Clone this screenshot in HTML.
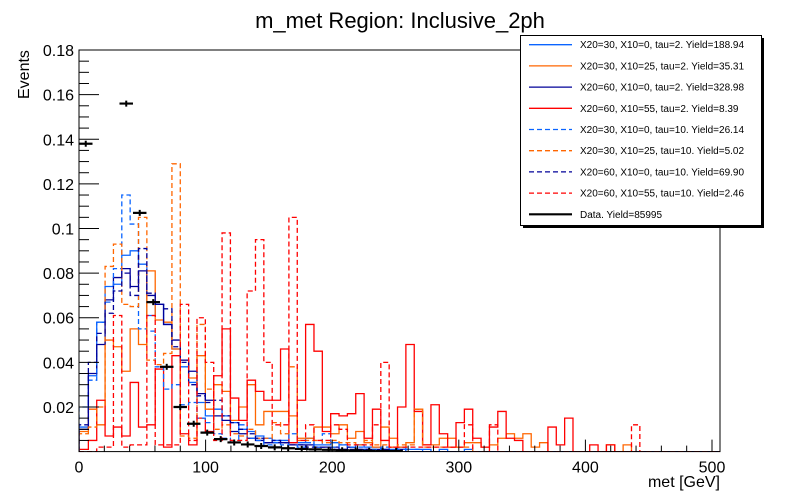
<!DOCTYPE html>
<html><head><meta charset="utf-8"><style>
html,body{margin:0;padding:0;background:#fff;width:800px;height:500px;overflow:hidden}
svg{display:block;font-family:"Liberation Sans",Arial,sans-serif}
</style></head><body>
<svg id="chart" width="800" height="500" viewBox="0 0 800 500">
<rect x="0" y="0" width="800" height="500" fill="#fff"/>
<text x="400" y="28" font-size="22" text-anchor="middle">m_met Region: Inclusive_2ph</text>
<text transform="translate(29,99) rotate(-90)" font-size="16" text-anchor="start">Events</text>
<text x="720" y="487" font-size="16" text-anchor="end">met [GeV]</text>
<g id="plot"></g>
<g id="axes"></g>
<g id="legend"></g>
</svg>
<script>
// ---- data (bin index k, bin width 6.6 GeV) ----
const sigBlueSolid = [0.011,0.034,0.058,0.074,0.075,0.088,0.09,0.084,0.061,0.066,0.057,0.046,0.038,0.031,0.022,0.016,0.019,0.016,0.013,0.010,0.009,0.007,0.006,0.005,0.005,0.004,0.004,0.006,0.003,0.003,0.004,0.003,0.002,0.003,0.002,0.002,0.001,0.001,0.002,0.001,0.001,0.001,0,0.001,0,0,0.001,0,0,0,0,0,0,0,0,0,0,0,0,0,0,0,0,0,0,0,0,0,0,0,0,0,0,0,0,0,0];
const sigOrangeSolid = [0.009,0.019,0.012,0.05,0.047,0.036,0.055,0.048,0.081,0.059,0.058,0.046,0.041,0.033,0.043,0.019,0.03,0.027,0.014,0.020,0.030,0.012,0.018,0.018,0.018,0.016,0.006,0.006,0.011,0.011,0.008,0.012,0.006,0.009,0.004,0.002,0.011,0.006,0.002,0.004,0.019,0.003,0.003,0.006,0.006,0.002,0.004,0.004,0.002,0.003,0.006,0.008,0.006,0.008,0.002,0.004,0,0,0,0,0,0,0,0.003,0,0.003,0,0,0,0,0,0,0,0,0,0,0];
const sigNavySolid = [0.010,0.035,0.048,0.068,0.078,0.082,0.074,0.081,0.070,0.066,0.057,0.050,0.041,0.036,0.026,0.023,0.016,0.014,0.009,0.008,0.006,0.005,0.004,0.004,0.004,0.003,0.003,0.003,0.002,0.002,0.002,0.001,0.002,0.001,0.001,0.001,0.001,0,0.001,0,0,0,0,0,0,0,0,0,0,0,0,0,0,0,0,0,0,0,0,0,0,0,0,0,0,0,0,0,0,0,0,0,0,0,0,0,0];
const sigRedSolid = [0.001,0.005,0.023,0.007,0.011,0.007,0.031,0.011,0.012,0.037,0.002,0.043,0.008,0.003,0.015,0.009,0.034,0.055,0.024,0.014,0.032,0.027,0.023,0.023,0.046,0.004,0.023,0.057,0.045,0.009,0.017,0.016,0.017,0.026,0.006,0.019,0.005,0.002,0.020,0.048,0.018,0.003,0.021,0.008,0.002,0.013,0.019,0.006,0.002,0.011,0.018,0.006,0.005,0,0,0,0.011,0.003,0.015,0,0,0.003,0,0.003,0,0,0,0,0,0,0,0,0,0,0,0,0];
const sigBlueDash = [0.02,0.032,0.058,0.067,0.082,0.115,0.102,0.055,0.054,0.038,0.028,0.030,0.021,0.022,0.015,0.013,0.008,0.006,0.004,0.012,0.006,0.005,0.003,0.004,0.003,0.008,0.002,0.004,0.002,0.008,0.002,0.003,0.002,0.002,0.001,0.001,0.002,0,0.001,0,0.001,0,0,0,0,0,0,0,0,0,0,0,0,0,0,0,0,0,0,0,0,0,0,0,0,0,0,0,0,0,0,0,0,0,0,0,0];
const sigOrangeDash = [0.008,0.011,0.020,0.083,0.093,0.066,0.065,0.105,0.041,0.039,0.044,0.129,0.007,0.006,0.057,0.028,0.010,0.012,0.008,0.007,0.010,0.006,0.006,0.013,0.008,0.038,0.005,0.005,0.005,0.004,0.005,0.004,0.004,0.003,0.005,0.003,0.003,0.002,0.003,0.003,0.019,0.002,0.002,0.002,0.002,0.002,0.002,0,0,0,0,0,0,0,0,0,0,0,0,0,0,0,0,0,0,0,0,0,0,0,0,0,0,0,0,0,0];
const sigNavyDash = [0.012,0.040,0.053,0.062,0.072,0.080,0.070,0.091,0.071,0.066,0.064,0.047,0.040,0.030,0.025,0.022,0.023,0.016,0.013,0.010,0.008,0.006,0.004,0.005,0.004,0.003,0.003,0.002,0.002,0.002,0.001,0.001,0.001,0.001,0.001,0,0,0,0,0,0,0,0,0,0,0,0,0,0,0,0,0,0,0,0,0,0,0,0,0,0,0,0,0,0,0,0,0,0,0,0,0,0,0,0,0,0];
const sigRedDash = [0,0,0.002,0.002,0.061,0.002,0.003,0.003,0.061,0.003,0.003,0.003,0.066,0.005,0.060,0.040,0.005,0.098,0.005,0.005,0.072,0.095,0.040,0.012,0.012,0.105,0.005,0.012,0.005,0.005,0.012,0.010,0.003,0.003,0.003,0.012,0.040,0.002,0.002,0.002,0.002,0.002,0.002,0.002,0.002,0.002,0.012,0,0,0.012,0,0,0,0,0,0,0,0,0,0,0,0,0,0,0,0,0.012,0,0,0,0,0,0,0,0,0,0];
const dataValues = [0.138,0.25,0.25,0.156,0.107,0.067,0.038,0.020,0.0125,0.0085,0.0056,0.0041,0.0032,0.0025,0.0019,0.0015,0.0012,0.0010,0.0008,0.0006,0.0005,0.0004,0.0003,0.0003];
const xTicks = [0,100,200,300,400,500];
const yTicks = [0.02,0.04,0.06,0.08,0.1,0.12,0.14,0.16,0.18];
const legendLabels = ["X20=30, X10=0, tau=2. Yield=188.94","X20=30, X10=25, tau=2. Yield=35.31","X20=60, X10=0, tau=2. Yield=328.98","X20=60, X10=55, tau=2. Yield=8.39","X20=30, X10=0, tau=10. Yield=26.14","X20=30, X10=25, tau=10. Yield=5.02","X20=60, X10=0, tau=10. Yield=69.90","X20=60, X10=55, tau=10. Yield=2.46","Data. Yield=85995"];

const NS="http://www.w3.org/2000/svg";
const L=79,R=720,T=50,B=451.6, XMAX=(R-L)/1.266, YMAX=0.18*(B-T)/(B-50)+0.0000;
const xs=v=>L+v*1.266;
const ys=v=>B-v*2231;
const binW=6.6, binOff=0.8;
function mk(tag,attrs,parent){const e=document.createElementNS(NS,tag);for(const k in attrs)e.setAttribute(k,attrs[k]);parent.appendChild(e);return e;}
const plot=document.getElementById('plot');
const defs=mk('defs',{},plot);
const cp=mk('clipPath',{id:'clip'},defs);
mk('rect',{x:L,y:T,width:R-L,height:B-T},cp);
const g=mk('g',{'clip-path':'url(#clip)'},plot);

const series=[
 {d:sigBlueSolid,c:'#0a64ff',dash:null,n:'series-x20-30-x10-0-tau2'},
 {d:sigOrangeSolid,c:'#ff6600',dash:null,n:'series-x20-30-x10-25-tau2'},
 {d:sigNavySolid,c:'#000099',dash:null,n:'series-x20-60-x10-0-tau2'},
 {d:sigRedSolid,c:'#ff0000',dash:null,n:'series-x20-60-x10-55-tau2'},
 {d:sigBlueDash,c:'#0a64ff',dash:'5,3',n:'series-x20-30-x10-0-tau10'},
 {d:sigOrangeDash,c:'#ff6600',dash:'5,3',n:'series-x20-30-x10-25-tau10'},
 {d:sigNavyDash,c:'#000099',dash:'5,3',n:'series-x20-60-x10-0-tau10'},
 {d:sigRedDash,c:'#ff0000',dash:'5,3',n:'series-x20-60-x10-55-tau10'}
];
series.forEach(s=>{
  let p='M'+xs(0)+','+ys(0);
  s.d.forEach((v,k)=>{
    const lo=k===0?0:binOff+binW*k, hi=binOff+binW*(k+1);
    p+=' L'+xs(lo)+','+ys(v)+' L'+xs(hi)+','+ys(v);
  });
  p+=' L'+xs(binOff+binW*s.d.length)+','+ys(0);
  const path=mk('path',{d:p,fill:'none',stroke:s.c,'stroke-width':1.3},g);
  if(s.dash)path.setAttribute('stroke-dasharray',s.dash);
  
  
});
// data points
const dW=10.66;
dataValues.forEach((v,i)=>{
  const lo=dW*i, hi=dW*(i+1), cx=xs(dW*(i+0.5)), cy=ys(v);
  const grp=mk('g',{},g);
  
  
  mk('line',{x1:xs(lo),x2:xs(hi),y1:cy,y2:cy,stroke:'#000','stroke-width':2.2},grp);
  mk('line',{x1:cx,x2:cx,y1:cy-3,y2:cy+3,stroke:'#000','stroke-width':2},grp);
});
// axes
const ax=document.getElementById('axes');
const frame=mk('rect',{x:L,y:T,width:R-L,height:B-T,fill:'none',stroke:'#000','stroke-width':1},ax);


for(let v=0;v<=505;v+=20){
  const major=v%100===0;
  mk('line',{x1:xs(v),x2:xs(v),y1:B,y2:B-(major?12:6),stroke:'#000','stroke-width':1},ax);
}
xTicks.forEach(v=>{
  const t=mk('text',{x:xs(v),y:B+21,'font-size':16,'text-anchor':'middle'},ax);
  t.textContent=v;
  
  
});
for(let i=1;i<=36;i++){
  const v=i*0.005, major=i%4===0;
  mk('line',{x1:L,x2:L+(major?20:10),y1:ys(v),y2:ys(v),stroke:'#000','stroke-width':1},ax);
}
yTicks.forEach(v=>{
  const t=mk('text',{x:L-5,y:ys(v)+6,'font-size':16,'text-anchor':'end'},ax);
  t.textContent=(Math.round(v*100)/100).toString();
  
  
});
// legend
const lg=document.getElementById('legend');
mk('rect',{x:523,y:38,width:241,height:190,fill:'#000'},lg);
mk('rect',{x:520.5,y:35.5,width:241,height:190,fill:'#fff',stroke:'#000','stroke-width':1},lg);
const lcol=['#0a64ff','#ff6600','#000099','#ff0000','#0a64ff','#ff6600','#000099','#ff0000','#000'];
legendLabels.forEach((lab,i)=>{
  const y=44.7+i*21.2;
  const e=mk('g',{},lg);
  
  
  const ln=mk('line',{x1:529,x2:572,y1:y,y2:y,stroke:lcol[i],'stroke-width':i===8?2.2:1.3},e);
  if(i>=4&&i<8)ln.setAttribute('stroke-dasharray','5,3');
  const t=mk('text',{x:580,y:y+3.5,'font-size':10},e);
  t.textContent=lab;
});
</script>
</body></html>
